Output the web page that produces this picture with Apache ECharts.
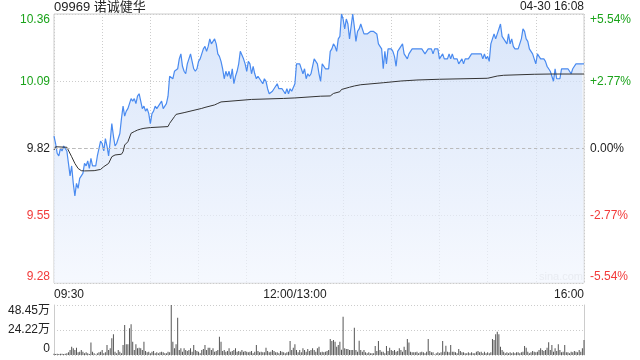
<!DOCTYPE html>
<html><head><meta charset="utf-8">
<script src="https://cdn.jsdelivr.net/npm/echarts@6/dist/echarts.min.js"></script>
<style>html,body{margin:0;padding:0;background:#fff}#c{width:640px;height:360px}</style>
</head><body><div id="c"></div>
<script>
const stockTitle = '09969 诺诚健华';
const stampText = '04-30 16:08';
const prevClose = 9.82;
const xTickPos = [0, 150, 330];
const xTickText = ['09:30', '12:00/13:00', '16:00'];
const priceTickVals = [9.28, 9.55, 9.82, 10.09, 10.36];
const priceTickText = ['9.28', '9.55', '9.82', '10.09', '10.36'];
const pctTickText = ['-5.54%', '-2.77%', '0.00%', '+2.77%', '+5.54%'];
const volTickVals = [0, 24.225, 48.45];
const volTickText = ['0', '24.22万', '48.45万'];

// minute-by-minute price (index 0 = 09:30, 150 = 12:00/13:00, 330 = 16:00)
const price = [
9.87,9.84,9.80,9.79,9.82,9.81,9.83,9.82,9.81,9.76,
9.71,9.75,9.68,9.63,9.68,9.66,9.70,9.71,9.72,9.76,
9.75,9.77,9.74,9.78,9.75,9.75,9.75,9.79,9.79,9.85,
9.84,9.81,9.86,9.83,9.79,9.85,9.92,9.87,9.83,9.84,
9.86,9.88,9.94,9.99,9.95,9.97,9.98,10.00,10.02,10.01,
10.02,10.00,10.03,10.04,10.01,9.98,9.99,9.97,9.98,9.96,
9.92,9.96,9.97,9.99,9.98,9.98,10.00,10.01,9.98,9.98,
10.00,10.03,10.11,10.11,10.10,10.13,10.13,10.14,10.18,10.20,
10.15,10.13,10.12,10.16,10.18,10.20,10.17,10.14,10.13,10.14,
10.17,10.18,10.20,10.22,10.23,10.21,10.23,10.26,10.24,10.24,
10.26,10.24,10.20,10.19,10.17,10.14,10.10,10.13,10.11,10.13,
10.10,10.14,10.08,10.11,10.13,10.16,10.21,10.21,10.18,10.16,
10.13,10.17,10.16,10.12,10.15,10.12,10.10,10.11,10.10,10.10,
10.08,10.10,10.09,10.06,10.04,10.04,10.05,10.05,10.07,10.08,
10.06,10.06,10.06,10.06,10.04,10.06,10.04,10.06,10.05,10.05,
10.08,10.16,10.16,10.16,10.16,10.12,10.14,10.10,10.12,10.11,
10.12,10.15,10.18,10.18,10.16,10.12,10.09,10.16,10.16,10.14,
10.14,10.14,10.21,10.22,10.24,10.23,10.21,10.26,10.27,10.36,
10.34,10.30,10.34,10.32,10.26,10.31,10.36,10.31,10.25,10.29,
10.30,10.32,10.30,10.28,10.28,10.28,10.28,10.29,10.29,10.29,
10.29,10.28,10.24,10.24,10.22,10.14,10.21,10.16,10.22,10.22,
10.22,10.21,10.19,10.15,10.21,10.22,10.23,10.24,10.20,10.20,
10.18,10.20,10.20,10.22,10.22,10.22,10.22,10.22,10.22,10.22,
10.22,10.20,10.20,10.22,10.22,10.22,10.20,10.22,10.22,10.22,
10.18,10.18,10.20,10.18,10.18,10.18,10.20,10.18,10.20,10.18,
10.18,10.18,10.16,10.16,10.18,10.16,10.18,10.18,10.18,10.18,
10.20,10.20,10.20,10.20,10.20,10.20,10.20,10.18,10.20,10.18,
10.19,10.17,10.24,10.26,10.28,10.26,10.28,10.30,10.32,10.27,
10.26,10.25,10.24,10.28,10.24,10.26,10.23,10.22,10.22,10.22,
10.22,10.26,10.30,10.29,10.26,10.25,10.22,10.21,10.20,10.18,
10.16,10.20,10.20,10.18,10.18,10.18,10.17,10.15,10.14,10.13,
10.13,10.09,10.14,10.10,10.10,10.10,10.14,10.14,10.14,10.14,
10.14,10.14,10.12,10.14,10.14,10.16,10.16,10.16,10.16,10.16,
10.16
];

// average price line, read at its turning points
const avgMin = [0,1,8,11,13,15,17,19,25,29,31,34,36,38,42,43,44,46,48,50,52,54,56,60,71,72,75,76,81,92,94,100,102,104,123,143,150,166,172,174,178,179,184,187,191,205,216,226,240,270,276,280,299,309,330];
const avgVal = [9.814,9.827,9.825,9.787,9.760,9.740,9.731,9.730,9.731,9.736,9.747,9.760,9.787,9.794,9.797,9.807,9.834,9.847,9.881,9.888,9.894,9.898,9.901,9.904,9.908,9.921,9.948,9.957,9.964,9.981,9.985,9.995,10.001,10.007,10.017,10.021,10.023,10.030,10.031,10.041,10.048,10.057,10.066,10.071,10.076,10.084,10.091,10.095,10.098,10.102,10.111,10.114,10.118,10.119,10.119];

// minute volume, in 万
const volume = [
1.3,1.0,1.3,1.0,1.3,1.3,1.0,1.3,1.6,2.6,
4.8,8.1,6.5,4.8,7.1,2.6,3.2,4.8,3.2,1.6,
2.6,1.6,1.0,12.0,3.2,1.6,0.6,1.6,2.6,3.2,
4.8,1.6,2.6,9.7,4.8,6.5,16.2,20.0,3.2,1.6,
4.8,3.2,1.6,9.7,29.1,10.3,10.3,25.8,29.7,12.9,
4.8,10.3,6.5,7.1,6.5,4.8,12.9,3.9,2.6,3.2,
1.6,3.2,3.9,1.6,2.6,1.6,2.6,3.2,2.6,1.6,
1.6,3.2,2.6,48.45,12.9,6.5,10.3,36.2,4.8,6.5,
3.2,6.5,4.8,3.9,4.8,6.5,3.2,9.7,4.8,3.9,
3.2,1.6,4.8,5.8,9.7,4.8,7.1,7.1,4.8,6.5,
3.2,3.9,4.8,17.8,12.9,3.9,4.8,3.2,3.9,6.5,
3.2,3.9,4.8,6.5,3.2,3.9,3.2,4.8,3.2,3.9,
3.2,2.6,3.2,3.9,1.6,3.2,9.7,3.9,2.6,3.2,
2.6,2.6,7.1,3.9,2.6,3.2,4.8,3.9,2.6,2.6,
1.6,3.9,3.2,2.6,1.6,2.6,3.2,13.6,4.8,7.1,
10.3,4.8,2.6,4.8,2.6,6.5,4.8,3.2,5.8,3.9,
4.8,6.5,4.8,3.2,6.5,8.1,2.6,3.2,2.6,3.2,
3.9,4.8,15.5,13.6,14.5,12.9,8.1,9.7,12.9,5.0,
37.1,6.5,5.8,5.8,4.8,4.8,4.8,26.5,4.8,3.2,
13.9,4.8,3.2,4.8,2.6,1.6,2.6,1.6,1.6,1.6,
8.7,3.9,13.6,4.8,3.2,3.2,1.6,8.7,3.9,7.1,
4.8,3.9,4.8,3.2,3.9,6.5,4.8,3.2,8.1,4.8,
15.5,12.0,3.2,2.6,2.6,2.6,3.2,1.6,2.6,3.2,
2.6,1.6,3.2,15.5,3.9,2.6,2.6,0.6,1.6,2.6,
1.6,2.6,13.6,3.2,9.0,3.2,2.6,9.7,3.2,3.2,
2.6,1.6,5.8,3.9,2.6,2.6,1.6,1.6,2.6,1.6,
2.6,1.6,1.6,3.2,3.9,2.6,3.2,1.6,3.2,1.6,
2.6,1.6,2.6,15.5,14.5,20.0,22.6,20.0,8.1,4.8,
3.2,1.6,2.6,1.6,2.6,1.6,2.6,1.6,2.6,2.6,
1.6,2.6,3.2,8.7,7.1,3.2,1.6,2.6,3.9,3.2,
2.6,3.2,4.8,6.5,4.8,3.9,4.8,7.1,12.3,4.8,
9.7,3.2,6.5,3.9,10.3,4.8,2.6,3.2,9.7,2.6,
2.6,1.6,3.2,2.6,3.9,3.2,2.6,4.8,3.2,6.5,
14.5
];

const FONT = "Arial, 'Liberation Sans', 'Noto Sans CJK SC', sans-serif";
const GREEN = '#1ba31b', RED = '#f23a3a', DARK = '#222';
function nearestIdx(arr, v) {
  v = +v; let b = 0;
  for (let k = 1; k < arr.length; k++) if (Math.abs(arr[k] - v) < Math.abs(arr[b] - v)) b = k;
  return b;
}
function priceColor(v) {
  v = +v;
  if (Math.abs(v - prevClose) < 1e-6) return DARK;
  return v > prevClose ? GREEN : RED;
}

const chart = echarts.init(document.getElementById('c'), null, { renderer: 'canvas' });
chart.setOption({
  animation: false,
  textStyle: { fontFamily: FONT },
  title: [
    { text: stockTitle, left: 54, top: 1, padding: 0, textStyle: { fontSize: 13, fontWeight: 'normal', color: '#222', fontFamily: FONT } },
    { text: stampText, right: 56, top: 1, padding: 0, textStyle: { fontSize: 12, fontWeight: 'normal', color: '#222', fontFamily: FONT } }
  ],
  grid: [
    { left: 54, top: 14, width: 530, height: 269, show: true, borderColor: '#ccc', borderWidth: 1, backgroundColor: 'transparent' },
    { left: 54, top: 305, width: 530, height: 50 }
  ],
  xAxis: [
    { type: 'value', gridIndex: 0, min: 0, max: 330, interval: 30,
      axisLine: { show: false }, axisTick: { show: false },
      splitLine: { show: true, lineStyle: { color: '#ccc', type: [1, 2] } },
      axisLabel: { margin: 6, fontSize: 12, color: '#222', fontFamily: FONT,
        showMinLabel: true, showMaxLabel: true, alignMinLabel: 'left', alignMaxLabel: 'right',
        formatter: v => { const k = xTickPos.indexOf(Math.round(v)); return k < 0 ? '' : xTickText[k]; } } },
    { type: 'value', gridIndex: 1, min: 0, max: 330, show: false }
  ],
  yAxis: [
    { type: 'value', gridIndex: 0, min: 9.28, max: 10.36, interval: 0.27, position: 'left',
      axisLine: { show: false }, axisTick: { show: false },
      splitLine: { show: true, lineStyle: { color: '#ccc', type: [1, 2] } },
      axisLabel: { margin: 4, fontSize: 12, fontFamily: FONT, color: v => priceColor(v),
        verticalAlignMinLabel: 'bottom', verticalAlignMaxLabel: 'top',
        formatter: v => priceTickText[nearestIdx(priceTickVals, v)] } },
    { type: 'value', gridIndex: 0, min: 9.28, max: 10.36, interval: 0.27, position: 'right',
      axisLine: { show: false }, axisTick: { show: false }, splitLine: { show: false },
      axisLabel: { margin: 6, fontSize: 12, fontFamily: FONT, color: v => priceColor(v),
        verticalAlignMinLabel: 'bottom', verticalAlignMaxLabel: 'top',
        formatter: v => pctTickText[nearestIdx(priceTickVals, v)] } },
    { type: 'value', gridIndex: 1, min: 0, max: 48.45, interval: 24.225, position: 'left',
      axisLine: { show: true, lineStyle: { color: '#ccc' } }, axisTick: { show: false },
      splitLine: { show: true, lineStyle: { color: '#ccc', type: [1, 2] } },
      axisLabel: { margin: 4, fontSize: 12, fontFamily: FONT, color: '#222',
        verticalAlignMinLabel: 'bottom', verticalAlignMaxLabel: 'top',
        formatter: v => volTickText[nearestIdx(volTickVals, v)] } },
    { type: 'value', gridIndex: 1, min: 0, max: 48.45, position: 'right',
      axisLine: { show: true, lineStyle: { color: '#ccc' } }, axisTick: { show: false },
      axisLabel: { show: false }, splitLine: { show: false } }
  ],
  series: [
    { type: 'line', xAxisIndex: 0, yAxisIndex: 0, data: price.map((p, i) => [i, p]),
      symbol: 'none', lineStyle: { color: '#4a8bf0', width: 1.2 },
      areaStyle: { color: new echarts.graphic.LinearGradient(0, 0, 0, 1, [
        { offset: 0, color: '#c8daf7' }, { offset: 1, color: '#f1f5fd' }]) },
      markLine: { silent: true, symbol: 'none', label: { show: false },
        lineStyle: { color: '#bbb', type: [3, 3], width: 1 }, data: [{ yAxis: prevClose }] } },
    { type: 'line', xAxisIndex: 0, yAxisIndex: 0, data: avgMin.map((m, k) => [m, avgVal[k]]),
      symbol: 'none', lineStyle: { color: '#333', width: 1 } },
    { type: 'bar', xAxisIndex: 1, yAxisIndex: 2, data: volume.map((v, i) => [i, v]),
      barWidth: 1, itemStyle: { color: '#555' } }
  ],
  graphic: [
    { type: 'text', right: 57, top: 271, style: { text: 'sina.com', fill: '#d8d8d8', font: '11px ' + FONT } }
  ]
});
</script>
</body></html>
